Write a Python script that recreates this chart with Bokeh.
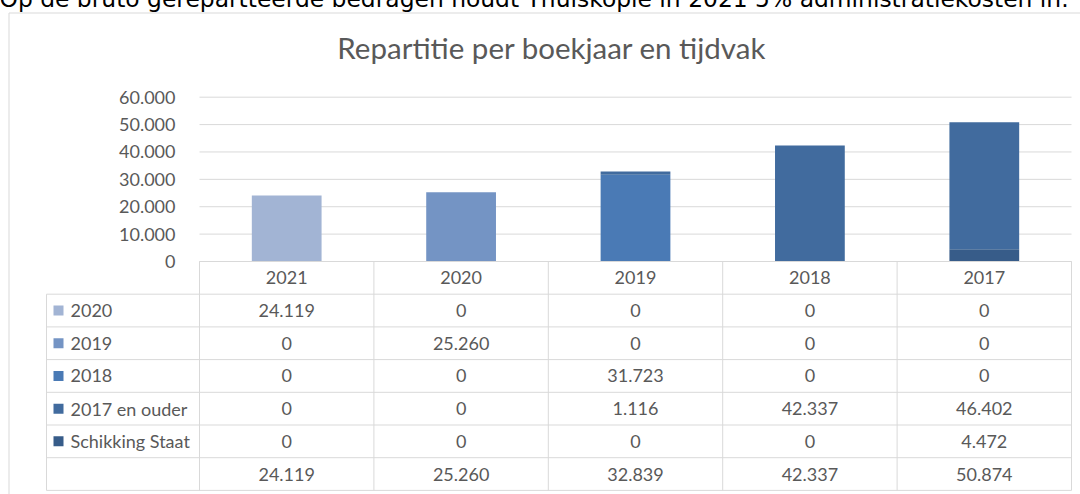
from bokeh.plotting import figure
from bokeh.models import Range1d, ColumnDataSource
from bokeh.core.properties import value
from bokeh.embed import file_html
from bokeh.resources import INLINE

# ---------------- data ----------------
TOP_NOTE = "Op de bruto gerepartteerde bedragen houdt Thuiskopie in 2021 5% administratiekosten in."
TITLE = "Repartitie per boekjaar en tijdvak"
YEARS = ["2021", "2020", "2019", "2018", "2017"]
SERIES = ["2020", "2019", "2018", "2017 en ouder", "Schikking Staat"]
S_2020 = [24119, 0, 0, 0, 0]
S_2019 = [0, 25260, 0, 0, 0]
S_2018 = [0, 0, 31723, 0, 0]
S_2017_OUDER = [0, 0, 1116, 42337, 46402]
S_SCHIKKING = [0, 0, 0, 0, 4472]
TOTALS = [24119, 25260, 32839, 42337, 50874]
Y_TICKS = [0, 10000, 20000, 30000, 40000, 50000, 60000]
Y_TICK_LABELS = ["0", "10.000", "20.000", "30.000", "40.000", "50.000", "60.000"]
SERIES_COLORS = ["#A2B4D4", "#7494C4", "#4A7AB5", "#416B9E", "#375C89"]

# ---------------- layout (page pixels) ----------------
W, H = 1080, 506
PAGE_TOP = -12
PLOT_L = 199.0
COL_W = 174.4
PLOT_TOP = 96.7
BASE = 261.0
ROW_H = 32.7
TABLE_L = 46.0
Y_MAX = 60000
TEXT = "#595959"
GRID = "#D9D9D9"
FONT = value("Lato")

ppv = (BASE - PLOT_TOP) / Y_MAX

x_range = Range1d(start=(0 - PLOT_L) / COL_W - 0.5, end=(W - PLOT_L) / COL_W - 0.5)
y_range = Range1d(start=-(PAGE_TOP + H - BASE) / ppv, end=(BASE - PAGE_TOP) / ppv)

p = figure(width=W, height=H, x_range=x_range, y_range=y_range,
           output_backend="svg", toolbar_location=None,
           x_axis_type=None, y_axis_type=None, title=None,
           min_border=0, min_border_left=0, min_border_right=0,
           min_border_top=0, min_border_bottom=0,
           outline_line_color=None, background_fill_color="white",
           border_fill_color="white")
p.extra_x_ranges = {"px": Range1d(0, W)}
p.extra_y_ranges = {"py": Range1d(PAGE_TOP + H, PAGE_TOP),
                    "rows": Range1d((PAGE_TOP + H - BASE) / ROW_H, (PAGE_TOP - BASE) / ROW_H)}
p.styles = {"margin": "-12px 0px 0px 0px"}

# top note (page text, partly cut off)
p.text(x=[-1], y=[-1.5], text=[TOP_NOTE], x_range_name="px", y_range_name="py",
       text_font=value("DejaVu Sans"), text_font_size="23.4px", text_color="#000000",
       text_align="left", text_baseline="alphabetic")

# chart border
p.segment(x0=[8.5, 8.5], y0=[12.5, 12.5], x1=[8.5, W], y1=[PAGE_TOP + H, 12.5],
          x_range_name="px", y_range_name="py", line_color=GRID, line_width=1)

# title
p.text(x=[551.5], y=[47], text=[TITLE], x_range_name="px", y_range_name="py",
       text_font=FONT, text_font_size="29.5px", text_color=TEXT,
       text_align="center", text_baseline="alphabetic")

n = len(YEARS)
# gridlines
p.segment(x0=[-0.5] * len(Y_TICKS), x1=[n - 0.5] * len(Y_TICKS), y0=Y_TICKS, y1=Y_TICKS,
          line_color=GRID, line_width=1)
# y tick labels
p.text(x=[175] * len(Y_TICKS), y=Y_TICKS, text=Y_TICK_LABELS, x_range_name="px",
       text_font=FONT, text_font_size="18px", text_color=TEXT,
       text_align="right", text_baseline="middle")

# stacked bars (Schikking Staat at the bottom)
src = ColumnDataSource(dict(x=list(range(n)), s2020=S_2020, s2019=S_2019, s2018=S_2018,
                            s2017=S_2017_OUDER, sschik=S_SCHIKKING))
stack_keys = ["sschik", "s2020", "s2019", "s2018", "s2017"]
stack_cols = [SERIES_COLORS[4], SERIES_COLORS[0], SERIES_COLORS[1], SERIES_COLORS[2], SERIES_COLORS[3]]
p.vbar_stack(stack_keys, x="x", width=0.4, fill_color=stack_cols, line_color=None, source=src)

# ---------------- data table ----------------
label_x0 = (TABLE_L - PLOT_L) / COL_W - 0.5
n_rows = len(SERIES) + 2
hx0 = [-0.5] + [label_x0] * (n_rows)
hx1 = [n - 0.5] * (n_rows + 1)
hy = list(range(n_rows + 1))
p.segment(x0=hx0, x1=hx1, y0=hy, y1=hy, y_range_name="rows", line_color=GRID, line_width=1)
vx = [i - 0.5 for i in range(n + 1)] + [label_x0]
vy0 = [0] * (n + 1) + [1]
vy1 = [n_rows] * (n + 2)
p.segment(x0=vx, x1=vx, y0=vy0, y1=vy1, y_range_name="rows", line_color=GRID, line_width=1)

# header
p.text(x=list(range(n)), y=[0.5] * n, text=YEARS, y_range_name="rows",
       text_font=FONT, text_font_size="18px", text_color=TEXT,
       text_align="center", text_baseline="middle")

def fmt(v):
    return f"{v:,}".replace(",", ".")

rows_vals = [S_2020, S_2019, S_2018, S_2017_OUDER, S_SCHIKKING]
cx, cy, ct = [], [], []
for k, vals in enumerate(rows_vals):
    for i, v in enumerate(vals):
        cx.append(i); cy.append(k + 1.5); ct.append(fmt(v))
for i, v in enumerate(TOTALS):
    cx.append(i); cy.append(len(rows_vals) + 1.5); ct.append(fmt(v))
p.text(x=cx, y=cy, text=ct, y_range_name="rows",
       text_font=FONT, text_font_size="18px", text_color=TEXT,
       text_align="center", text_baseline="middle")

# legend keys + labels
ky = [k + 1.5 for k in range(len(SERIES))]
p.rect(x=[58] * len(SERIES), y=ky, width=10, height=10, width_units="screen",
       height_units="screen", x_range_name="px", y_range_name="rows",
       fill_color=SERIES_COLORS, line_color=None)
p.text(x=[70] * len(SERIES), y=ky, text=SERIES, x_range_name="px", y_range_name="rows",
       text_font=FONT, text_font_size="18px", text_color=TEXT,
       text_align="left", text_baseline="middle")

open("out.html", "w").write(file_html(p, INLINE))
